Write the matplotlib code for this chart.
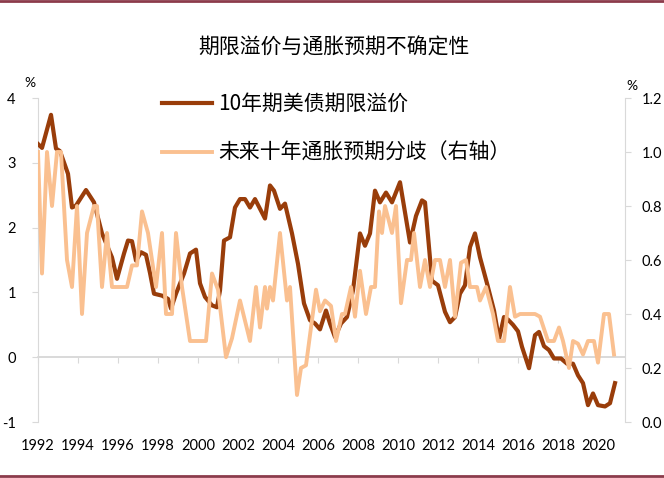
import matplotlib
matplotlib.use('Agg')
import matplotlib.pyplot as plt
from matplotlib.lines import Line2D

plt.rcParams['font.family'] = ['Noto Sans CJK SC', 'DejaVu Sans']

# 10年期美债期限溢价 (left axis, %)
tp_years = [1992.0, 1992.2, 1992.65, 1992.9, 1993.1, 1993.5, 1993.7, 1993.9, 1994.4, 1994.8,
            1995.2, 1995.7, 1995.95, 1996.3, 1996.5, 1996.7, 1996.9, 1997.15, 1997.4, 1997.6,
            1997.8, 1998.2, 1998.5, 1998.65, 1998.9, 1999.3, 1999.6, 1999.9, 2000.1, 2000.35,
            2000.7, 2000.95, 2001.1, 2001.3, 2001.6, 2001.85, 2002.1, 2002.35, 2002.6, 2002.85,
            2003.35, 2003.6, 2003.8, 2004.1, 2004.35, 2004.7, 2005.0, 2005.3, 2005.6, 2005.85,
            2006.1, 2006.4, 2006.6, 2006.85, 2007.15, 2007.45, 2007.75, 2008.1, 2008.35, 2008.6,
            2008.85, 2009.1, 2009.4, 2009.7, 2010.1, 2010.6, 2010.9, 2011.2, 2011.35, 2011.7,
            2012.0, 2012.35, 2012.6, 2012.85, 2013.1, 2013.35, 2013.6, 2013.85, 2014.1, 2014.45,
            2014.8, 2015.05, 2015.3, 2015.5, 2015.75, 2016.0, 2016.2, 2016.55, 2016.85, 2017.05,
            2017.3, 2017.55, 2017.8, 2018.15, 2018.45, 2018.75, 2019.0, 2019.25, 2019.5, 2019.75,
            2020.0, 2020.35, 2020.6, 2020.85]
tp_vals = [3.29, 3.23, 3.74, 3.22, 3.18, 2.83, 2.31, 2.34, 2.58, 2.39,
           1.91, 1.54, 1.21, 1.60, 1.80, 1.79, 1.49, 1.62, 1.58, 1.30,
           0.98, 0.95, 0.90, 0.75, 0.98, 1.29, 1.60, 1.66, 1.14, 0.93,
           0.80, 0.77, 1.03, 1.80, 1.85, 2.31, 2.44, 2.44, 2.31, 2.44,
           2.14, 2.65, 2.57, 2.29, 2.37, 1.91, 1.44, 0.83, 0.57, 0.52,
           0.43, 0.72, 0.52, 0.31, 0.52, 0.62, 1.03, 1.91, 1.72, 1.91,
           2.57, 2.39, 2.54, 2.39, 2.70, 1.77, 2.18, 2.42, 2.39, 1.18,
           1.11, 0.70, 0.54, 0.62, 0.98, 1.11, 1.70, 1.91, 1.54, 1.14,
           0.72, 0.28, 0.62, 0.58, 0.50, 0.40, 0.16, -0.17, 0.34, 0.39,
           0.17, 0.11, -0.02, -0.02, -0.10, -0.10, -0.28, -0.40, -0.74, -0.56,
           -0.74, -0.76, -0.71, -0.40]

# 未来十年通胀预期分歧 (right axis, %)
ie_years = [1992.0, 1992.2, 1992.45, 1992.7, 1992.95, 1993.15, 1993.45, 1993.7, 1993.95, 1994.2,
            1994.45, 1994.8, 1994.95, 1995.2, 1995.45, 1995.7, 1996.45, 1996.7, 1996.95, 1997.2,
            1997.5, 1997.9, 1998.2, 1998.4, 1998.7, 1998.9, 1999.2, 1999.6, 2000.4, 2000.7,
            2001.0, 2001.4, 2001.7, 2002.1, 2002.6, 2002.9, 2003.1, 2003.35, 2003.45, 2003.6,
            2003.75, 2004.1, 2004.45, 2004.6, 2004.95, 2005.15, 2005.4, 2005.9, 2006.1, 2006.35,
            2006.65, 2006.9, 2007.2, 2007.35, 2007.65, 2007.85, 2008.1, 2008.4, 2008.65, 2008.85,
            2009.05, 2009.2, 2009.35, 2009.7, 2009.9, 2010.15, 2010.45, 2010.65, 2010.8, 2011.1,
            2011.35, 2011.6, 2011.85, 2012.1, 2012.35, 2012.6, 2012.85, 2013.15, 2013.4, 2013.6,
            2013.95, 2014.1, 2014.4, 2014.75, 2015.0, 2015.3, 2015.6, 2015.85, 2016.1, 2016.85,
            2017.1, 2017.5, 2017.8, 2018.05, 2018.25, 2018.55, 2018.75, 2019.0, 2019.25, 2019.5,
            2019.8, 2020.0, 2020.3, 2020.55, 2020.8]
ie_vals = [1.00, 0.55, 1.00, 0.80, 1.00, 1.00, 0.60, 0.50, 0.80, 0.40,
           0.70, 0.80, 0.80, 0.50, 0.70, 0.50, 0.50, 0.58, 0.58, 0.78,
           0.70, 0.50, 0.70, 0.40, 0.40, 0.70, 0.50, 0.30, 0.30, 0.55,
           0.49, 0.24, 0.31, 0.45, 0.30, 0.50, 0.35, 0.50, 0.42, 0.50,
           0.45, 0.70, 0.45, 0.50, 0.10, 0.20, 0.21, 0.49, 0.41, 0.45,
           0.43, 0.30, 0.40, 0.40, 0.50, 0.39, 0.56, 0.40, 0.50, 0.50,
           0.78, 0.70, 0.80, 0.70, 0.80, 0.44, 0.60, 0.60, 0.70, 0.50,
           0.60, 0.50, 0.60, 0.60, 0.50, 0.60, 0.39, 0.59, 0.60, 0.50,
           0.50, 0.45, 0.50, 0.40, 0.30, 0.30, 0.50, 0.39, 0.40, 0.40,
           0.39, 0.30, 0.30, 0.35, 0.30, 0.20, 0.30, 0.29, 0.25, 0.30,
           0.30, 0.22, 0.40, 0.40, 0.25]

x_ticks = list(range(1992, 2021, 2))
left_ticks = [-1, 0, 1, 2, 3, 4]
right_ticks = [0.0, 0.2, 0.4, 0.6, 0.8, 1.0, 1.2]
labels = ['10年期美债期限溢价', '未来十年通胀预期分歧（右轴）']
title = '期限溢价与通胀预期不确定性'

dark = '#993d0a'
light = '#fac090'
gray = '#d9d9d9'
W, H = 664, 478

fig = plt.figure(figsize=(W / 100, H / 100), dpi=100)
ax = fig.add_axes([38 / W, 1 - 422 / H, 587 / W, 324 / H])
ax2 = ax.twinx()

ax.axhline(0, color=gray, lw=1.2, zorder=1)
ax.plot(tp_years, tp_vals, color=dark, lw=3, solid_joinstyle='round', zorder=3)
ax2.plot(ie_years, ie_vals, color=light, lw=2.8, solid_joinstyle='round', zorder=3)

ax.set_xlim(1992, 2021.35)
ax.set_ylim(-1, 4)
ax2.set_ylim(0, 1.2)

for s in ['top', 'right', 'bottom']:
    ax.spines[s].set_visible(False)
for s in ['top', 'left', 'bottom']:
    ax2.spines[s].set_visible(False)
ax.spines['left'].set_color(gray)
ax2.spines['right'].set_color(gray)

ax.set_yticks(left_ticks)
ax.set_yticklabels([str(v) for v in left_ticks])
ax2.set_yticks(right_ticks)
ax2.set_yticklabels(['%.1f' % v for v in right_ticks])
ax.tick_params(axis='y', length=4, color=gray, pad=12, labelsize=10.5)
ax2.tick_params(axis='y', length=4, color=gray, pad=8, labelsize=10.5)

ax.set_xticks(x_ticks)
ax.set_xticklabels([str(y) for y in x_ticks])
ax.tick_params(axis='x', length=0, pad=12, labelsize=10.5)

# tick marks on the zero line
sec = ax.secondary_xaxis(0.2)
sec.set_xticks(x_ticks)
sec.tick_params(axis='x', direction='out', length=4, color=gray, labelbottom=False)
sec.spines['bottom'].set_color(gray)
sec.spines['bottom'].set_linewidth(1.2)

for lbl in ax.get_xticklabels() + ax.get_yticklabels() + ax2.get_yticklabels():
    lbl.set_fontfamily('Lato')

fig.text(30 / W, 1 - 83 / H, '%', ha='center', va='center', fontsize=10, family='Lato')
fig.text(632 / W, 1 - 86 / H, '%', ha='center', va='center', fontsize=10, family='Lato')
fig.text(334 / W, 1 - 48 / H, title, ha='center', va='center', fontsize=15)

handles = [Line2D([], [], color=dark, lw=3), Line2D([], [], color=light, lw=2.8)]
ax2.legend(handles, labels, loc='upper left', bbox_to_anchor=(162 / W, 1 - 93 / H),
           bbox_transform=fig.transFigure, frameon=False, fontsize=15,
           handlelength=2.4, handletextpad=0.3, labelspacing=1.3,
           borderpad=0, borderaxespad=0)

# page border lines
border = '#8c3b4b'
fig.add_artist(Line2D([0, 1], [1 - 1 / H, 1 - 1 / H], transform=fig.transFigure, color=border, lw=2))
fig.add_artist(Line2D([0, 1], [2 / H, 2 / H], transform=fig.transFigure, color=border, lw=2))

fig.savefig('out.png', dpi=100)
